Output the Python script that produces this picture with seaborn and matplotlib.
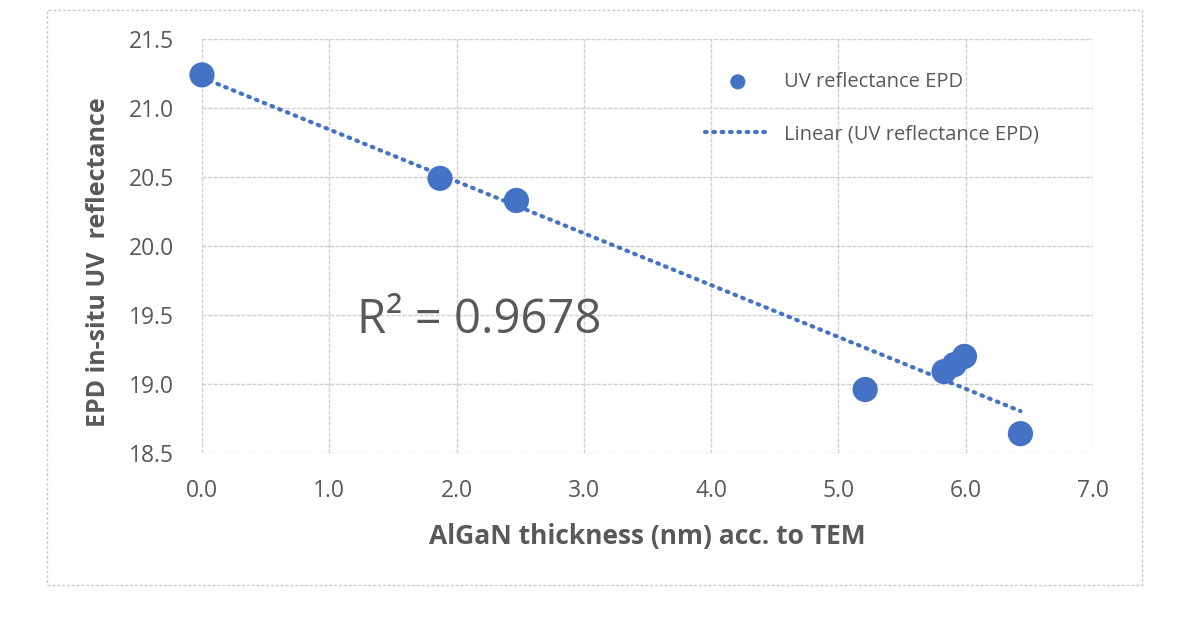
import numpy as np
import pandas as pd
import matplotlib
matplotlib.use("Agg")
import matplotlib.pyplot as plt
import seaborn as sns
from matplotlib.patches import Rectangle

# --- data ---
thickness_nm = [0.0, 1.87, 2.47, 5.21, 5.83, 5.91, 5.99, 6.43]
epd_uv = [21.24, 20.49, 20.33, 18.96, 19.09, 19.14, 19.20, 18.64]
x_ticks = [0.0, 1.0, 2.0, 3.0, 4.0, 5.0, 6.0, 7.0]
y_ticks = [18.5, 19.0, 19.5, 20.0, 20.5, 21.0, 21.5]
r2_label = "R\u00b2 = 0.9678"

BLUE = "#4472C4"
GREY = "#595959"

sns.set_theme(style="white")
plt.rcParams['font.family'] = ['Open Sans', 'DejaVu Sans']

df = pd.DataFrame({"x": thickness_nm, "y": epd_uv})

# linear trendline (least squares over the points)
slope, intercept = np.polyfit(df["x"], df["y"], 1)
trend = pd.DataFrame({"x": [df["x"].min(), df["x"].max()]})
trend["y"] = slope * trend["x"] + intercept

fig = plt.figure(figsize=(11.99, 6.17), dpi=100)
ax = fig.add_axes([202 / 1199, 1 - 453 / 617, (1093 - 202) / 1199, (453 - 39) / 617])

sns.lineplot(data=trend, x="x", y="y", ax=ax, color=BLUE, lw=3,
             linestyle=(0, (0.4, 1.6)), dash_capstyle="round",
             label="Linear (UV reflectance EPD)", zorder=3)
sns.scatterplot(data=df, x="x", y="y", ax=ax, color=BLUE, s=330,
                edgecolor="none", label="UV reflectance EPD", zorder=4)

ax.set_xlim(0, 7)
ax.set_ylim(18.5, 21.5)
ax.set_xticks(x_ticks)
ax.set_yticks(y_ticks)
ax.set_xticklabels([f"{v:.1f}" for v in x_ticks])
ax.set_yticklabels([f"{v:.1f}" for v in y_ticks])
ax.tick_params(axis="both", labelsize=16.5, labelcolor=GREY, length=0)
ax.tick_params(axis="x", pad=19)
ax.tick_params(axis="y", pad=20)
ax.grid(True, color="#d0d0d0", lw=1, ls=(0, (3, 1)))
for s in ax.spines.values():
    s.set_visible(False)
ax.set_axisbelow(True)
for m in ax.collections + ax.lines:
    m.set_clip_on(False)

ax.set_xlabel("AlGaN thickness (nm) acc. to TEM", fontsize=19, fontweight="bold",
              color=GREY, labelpad=14)
ax.set_ylabel("EPD in-situ UV  reflectance", fontsize=18, fontweight="bold",
              color=GREY)
ax.yaxis.set_label_coords(-0.102, 0.461)

ax.text(1.22, 19.46, r2_label, fontsize=34, color=GREY, va="center", ha="left")

# legend, reorder so the markers come first
h, l = ax.get_legend_handles_labels()
order = [l.index("UV reflectance EPD"), l.index("Linear (UV reflectance EPD)")]
leg = ax.legend([h[i] for i in order], [l[i] for i in order], frameon=False,
                loc="upper left", bbox_to_anchor=(689 / 1199, 1 - 56 / 617),
                bbox_transform=fig.transFigure, fontsize=14.5, labelspacing=1.6,
                handlelength=3.25, handletextpad=0.65, markerscale=0.6,
                borderpad=0.3)
for t in leg.get_texts():
    t.set_color(GREY)

# dashed chart-area border
fig.patches.append(Rectangle((47 / 1199, 1 - 585 / 617), (1142 - 47) / 1199, (585 - 10) / 617,
                             transform=fig.transFigure, fill=False, ec="#c8c8c8",
                             lw=1, ls=(0, (2, 1.5))))

fig.savefig("out.png", dpi=100)
